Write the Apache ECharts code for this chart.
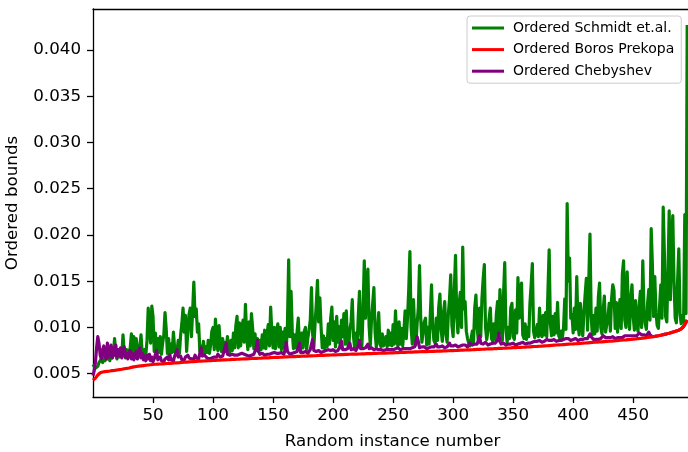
<!DOCTYPE html>
<html>
<head>
<meta charset="utf-8">
<script src="https://cdn.jsdelivr.net/npm/echarts@6/dist/echarts.min.js"></script>
<style>
  html, body { margin: 0; padding: 0; background: #fff; }
  #chart { width: 688px; height: 452px; }
</style>
</head>
<body>
<div id="chart"></div>
<script>
// Tick positions for both axes
const xTicks = [50, 100, 150, 200, 250, 300, 350, 400, 450];
const yTicks = [0.005, 0.010, 0.015, 0.020, 0.025, 0.030, 0.035, 0.040];

// Ordered Schmidt et.al. bound, one value per random instance
const schmidt = [
  .0060,.0061,.0056,.0054,.0058,.0062,.0060,.0066,.0062,.0068,
  .0064,.0072,.0066,.0070,.0064,.0076,.0067,.0073,.0088,.0070,
  .0066,.0072,.0068,.0075,.0070,.0092,.0072,.0067,.0076,.0069,
  .0073,.0078,.0093,.0074,.0090,.0070,.0088,.0075,.0069,.0079,
  .0092,.0072,.0068,.0076,.0070,.0086,.0121,.0100,.0083,.0123,
  .0112,.0074,.0094,.0072,.0088,.0073,.0090,.0071,.0083,.0092,
  .0116,.0098,.0072,.0088,.0070,.0082,.0073,.0095,.0078,.0070,
  .0074,.0086,.0072,.0092,.0104,.0121,.0095,.0113,.0074,.0096,
  .0114,.0121,.0090,.0118,.0149,.0112,.0120,.0095,.0104,.0074,
  .0080,.0071,.0085,.0072,.0079,.0073,.0086,.0072,.0081,.0096,
  .0100,.0076,.0109,.0088,.0075,.0102,.0082,.0074,.0088,.0073,
  .0084,.0074,.0090,.0076,.0073,.0086,.0075,.0094,.0078,.0102,
  .0112,.0078,.0105,.0080,.0098,.0108,.0084,.0125,.0090,.0076,
  .0106,.0080,.0115,.0099,.0077,.0093,.0075,.0088,.0074,.0086,
  .0076,.0092,.0078,.0097,.0077,.0093,.0103,.0080,.0122,.0094,
  .0078,.0100,.0077,.0097,.0104,.0079,.0100,.0076,.0095,.0078,
  .0099,.0077,.0104,.0173,.0090,.0139,.0096,.0077,.0092,.0078,
  .0095,.0110,.0080,.0076,.0094,.0078,.0096,.0100,.0076,.0089,
  .0097,.0108,.0143,.0092,.0079,.0104,.0125,.0151,.0106,.0132,
  .0100,.0078,.0091,.0077,.0088,.0079,.0104,.0082,.0110,.0122,
  .0086,.0106,.0079,.0112,.0084,.0101,.0078,.0108,.0090,.0115,
  .0082,.0118,.0084,.0078,.0098,.0106,.0130,.0090,.0078,.0094,
  .0080,.0112,.0139,.0094,.0080,.0120,.0172,.0110,.0142,.0163,
  .0102,.0080,.0108,.0126,.0143,.0095,.0079,.0096,.0116,.0082,
  .0079,.0093,.0080,.0078,.0090,.0079,.0097,.0081,.0094,.0080,
  .0103,.0082,.0118,.0088,.0080,.0106,.0082,.0099,.0080,.0096,
  .0118,.0088,.0110,.0140,.0182,.0100,.0082,.0130,.0095,.0081,
  .0104,.0121,.0167,.0110,.0084,.0082,.0106,.0110,.0081,.0100,
  .0082,.0114,.0146,.0102,.0086,.0083,.0110,.0086,.0122,.0136,
  .0098,.0085,.0116,.0128,.0092,.0084,.0114,.0131,.0157,.0102,
  .0090,.0141,.0178,.0112,.0094,.0126,.0138,.0100,.0187,.0120,
  .0128,.0096,.0088,.0083,.0080,.0079,.0096,.0084,.0121,.0135,
  .0100,.0086,.0121,.0090,.0131,.0152,.0168,.0100,.0087,.0096,
  .0110,.0121,.0088,.0085,.0104,.0087,.0114,.0128,.0092,.0141,
  .0112,.0086,.0136,.0170,.0098,.0084,.0100,.0088,.0121,.0126,
  .0090,.0087,.0119,.0094,.0154,.0110,.0138,.0148,.0092,.0088,
  .0104,.0087,.0100,.0090,.0126,.0146,.0169,.0096,.0089,.0088,
  .0103,.0090,.0121,.0094,.0090,.0113,.0092,.0116,.0090,.0140,
  .0184,.0104,.0091,.0112,.0092,.0115,.0094,.0127,.0091,.0088,
  .0096,.0089,.0100,.0131,.0098,.0234,.0150,.0175,.0110,.0114,
  .0094,.0121,.0098,.0155,.0104,.0092,.0126,.0108,.0091,.0116,
  .0136,.0153,.0097,.0150,.0201,.0112,.0092,.0113,.0093,.0121,
  .0096,.0133,.0148,.0100,.0093,.0119,.0134,.0095,.0094,.0111,
  .0126,.0096,.0131,.0146,.0140,.0099,.0127,.0095,.0119,.0130,
  .0099,.0158,.0172,.0108,.0100,.0160,.0122,.0098,.0131,.0146,
  .0112,.0097,.0129,.0104,.0096,.0123,.0139,.0100,.0172,.0118,
  .0104,.0098,.0126,.0141,.0108,.0207,.0168,.0112,.0155,.0116,
  .0102,.0099,.0123,.0146,.0110,.0230,.0180,.0112,.0106,.0160,
  .0226,.0130,.0190,.0221,.0150,.0110,.0105,.0150,.0185,.0115,
  .0104,.0113,.0106,.0222,.0115,.0427
];

// Ordered Boros Prekopa bound
const borosPrekopa = [
  .00430,.00438,.00452,.00468,.00486,.00502,.00510,.00515,.00518,.00521,
  .00522,.00524,.00526,.00527,.00529,.00531,.00533,.00534,.00536,.00538,
  .00540,.00542,.00544,.00546,.00548,.00551,.00553,.00555,.00557,.00560,
  .00562,.00565,.00568,.00571,.00573,.00576,.00578,.00580,.00582,.00584,
  .00585,.00587,.00588,.00590,.00591,.00593,.00594,.00596,.00597,.00599,
  .00600,.00601,.00602,.00603,.00604,.00604,.00605,.00606,.00607,.00608,
  .00608,.00609,.00610,.00611,.00612,.00613,.00614,.00615,.00616,.00617,
  .00617,.00618,.00619,.00620,.00622,.00623,.00624,.00625,.00626,.00627,
  .00628,.00629,.00629,.00630,.00631,.00632,.00633,.00634,.00635,.00635,
  .00636,.00637,.00637,.00638,.00639,.00640,.00640,.00641,.00642,.00642,
  .00643,.00644,.00644,.00645,.00646,.00647,.00647,.00648,.00649,.00649,
  .00650,.00650,.00651,.00652,.00652,.00653,.00654,.00654,.00655,.00655,
  .00656,.00657,.00657,.00658,.00659,.00659,.00660,.00661,.00661,.00662,
  .00662,.00663,.00664,.00664,.00665,.00665,.00666,.00666,.00667,.00668,
  .00668,.00669,.00670,.00670,.00671,.00672,.00672,.00673,.00674,.00674,
  .00675,.00675,.00676,.00677,.00677,.00678,.00678,.00679,.00680,.00680,
  .00681,.00681,.00682,.00683,.00683,.00684,.00684,.00685,.00685,.00686,
  .00687,.00687,.00688,.00688,.00689,.00689,.00690,.00690,.00691,.00691,
  .00692,.00693,.00693,.00694,.00694,.00695,.00695,.00696,.00697,.00697,
  .00698,.00698,.00699,.00699,.00700,.00700,.00701,.00701,.00702,.00702,
  .00703,.00703,.00704,.00704,.00705,.00705,.00706,.00706,.00707,.00707,
  .00708,.00708,.00709,.00709,.00710,.00710,.00711,.00711,.00712,.00712,
  .00712,.00713,.00713,.00714,.00714,.00715,.00715,.00716,.00716,.00717,
  .00717,.00717,.00718,.00718,.00719,.00719,.00720,.00720,.00721,.00721,
  .00721,.00722,.00722,.00723,.00723,.00724,.00724,.00725,.00725,.00726,
  .00726,.00727,.00727,.00728,.00728,.00729,.00729,.00730,.00730,.00731,
  .00731,.00731,.00732,.00732,.00733,.00733,.00734,.00734,.00735,.00735,
  .00736,.00736,.00737,.00737,.00738,.00738,.00738,.00739,.00739,.00740,
  .00740,.00741,.00741,.00742,.00742,.00743,.00743,.00744,.00744,.00745,
  .00745,.00746,.00746,.00747,.00747,.00748,.00748,.00749,.00749,.00750,
  .00750,.00751,.00751,.00752,.00752,.00753,.00754,.00754,.00755,.00755,
  .00756,.00756,.00757,.00758,.00758,.00759,.00759,.00760,.00761,.00761,
  .00762,.00762,.00763,.00764,.00764,.00765,.00765,.00766,.00767,.00767,
  .00768,.00768,.00769,.00770,.00770,.00771,.00772,.00772,.00773,.00773,
  .00774,.00775,.00775,.00776,.00777,.00777,.00778,.00779,.00779,.00780,
  .00781,.00781,.00782,.00783,.00783,.00784,.00785,.00785,.00786,.00787,
  .00787,.00788,.00789,.00790,.00790,.00791,.00792,.00793,.00794,.00795,
  .00795,.00796,.00797,.00798,.00799,.00800,.00801,.00802,.00802,.00803,
  .00804,.00805,.00806,.00807,.00808,.00809,.00810,.00811,.00812,.00812,
  .00813,.00814,.00815,.00816,.00817,.00818,.00819,.00820,.00821,.00821,
  .00822,.00823,.00824,.00825,.00826,.00827,.00828,.00829,.00830,.00831,
  .00832,.00833,.00834,.00835,.00836,.00837,.00838,.00839,.00840,.00840,
  .00841,.00842,.00843,.00844,.00845,.00846,.00847,.00848,.00849,.00850,
  .00851,.00852,.00853,.00854,.00855,.00856,.00857,.00858,.00860,.00861,
  .00862,.00863,.00864,.00865,.00866,.00868,.00869,.00870,.00871,.00872,
  .00874,.00875,.00876,.00877,.00879,.00880,.00881,.00883,.00884,.00886,
  .00888,.00889,.00891,.00893,.00895,.00897,.00899,.00901,.00903,.00905,
  .00908,.00910,.00913,.00916,.00919,.00922,.00925,.00928,.00931,.00935,
  .00938,.00942,.00946,.00950,.00954,.00958,.00962,.00966,.00970,.00975,
  .00985,.00995,.01010,.01030,.01055,.01080
];

// Ordered Chebyshev bound
const chebyshev = [
  .0048,.0053,.0062,.0078,.0090,.0083,.0070,.0066,.0076,.0080,
  .0070,.0066,.0083,.0068,.0074,.0081,.0067,.0078,.0070,.0081,
  .0068,.0076,.0070,.0078,.0067,.0074,.0079,.0068,.0072,.0066,
  .0071,.0075,.0066,.0072,.0065,.0069,.0074,.0066,.0074,.0078,
  .0067,.0072,.0065,.0069,.0064,.0070,.0066,.0071,.0064,.0068,
  .0063,.0066,.0071,.0075,.0065,.0063,.0068,.0064,.0066,.0063,
  .0066,.0064,.0068,.0065,.0070,.0065,.0067,.0064,.0069,.0072,
  .0076,.0068,.0066,.0069,.0065,.0067,.0065,.0068,.0066,.0070,
  .0067,.0069,.0066,.0068,.0066,.0070,.0067,.0069,.0066,.0072,
  .0078,.0069,.0067,.0070,.0068,.0067,.0069,.0066,.0068,.0067,
  .0069,.0068,.0070,.0068,.0071,.0069,.0068,.0070,.0069,.0074,
  .0079,.0083,.0071,.0069,.0070,.0068,.0071,.0069,.0070,.0072,
  .0070,.0069,.0071,.0070,.0072,.0070,.0071,.0073,.0070,.0071,
  .0069,.0071,.0070,.0072,.0071,.0070,.0078,.0086,.0074,.0071,
  .0070,.0072,.0071,.0070,.0072,.0071,.0073,.0071,.0070,.0072,
  .0071,.0073,.0071,.0072,.0070,.0072,.0071,.0073,.0072,.0071,
  .0076,.0084,.0074,.0072,.0071,.0073,.0072,.0071,.0073,.0072,
  .0074,.0079,.0083,.0073,.0072,.0073,.0072,.0074,.0073,.0072,
  .0074,.0076,.0082,.0087,.0075,.0073,.0074,.0073,.0075,.0074,
  .0073,.0075,.0074,.0073,.0075,.0074,.0076,.0074,.0075,.0074,
  .0076,.0075,.0074,.0076,.0075,.0077,.0080,.0085,.0076,.0075,
  .0076,.0075,.0077,.0079,.0083,.0076,.0075,.0077,.0076,.0075,
  .0077,.0080,.0086,.0077,.0076,.0077,.0076,.0078,.0077,.0082,
  .0077,.0076,.0078,.0077,.0076,.0078,.0077,.0078,.0076,.0078,
  .0076,.0077,.0075,.0077,.0076,.0078,.0076,.0077,.0076,.0077,
  .0076,.0078,.0077,.0076,.0078,.0077,.0076,.0078,.0077,.0078,
  .0077,.0078,.0077,.0078,.0077,.0079,.0078,.0077,.0079,.0084,
  .0090,.0085,.0078,.0077,.0079,.0078,.0079,.0078,.0077,.0079,
  .0078,.0077,.0079,.0078,.0079,.0078,.0082,.0079,.0078,.0079,
  .0078,.0080,.0079,.0078,.0080,.0079,.0081,.0083,.0080,.0079,
  .0080,.0079,.0081,.0080,.0079,.0081,.0080,.0079,.0081,.0080,
  .0081,.0080,.0079,.0081,.0083,.0085,.0081,.0080,.0082,.0081,
  .0082,.0086,.0091,.0083,.0081,.0082,.0081,.0084,.0082,.0081,
  .0083,.0082,.0081,.0083,.0082,.0083,.0082,.0086,.0094,.0085,
  .0082,.0081,.0083,.0082,.0081,.0083,.0082,.0083,.0082,.0081,
  .0083,.0082,.0081,.0083,.0082,.0084,.0083,.0082,.0084,.0083,
  .0082,.0084,.0083,.0084,.0083,.0085,.0084,.0083,.0085,.0084,
  .0085,.0084,.0086,.0085,.0084,.0086,.0085,.0086,.0087,.0089,
  .0086,.0085,.0086,.0085,.0087,.0086,.0085,.0087,.0086,.0087,
  .0086,.0088,.0087,.0086,.0088,.0087,.0088,.0087,.0086,.0088,
  .0087,.0086,.0088,.0087,.0086,.0088,.0087,.0088,.0087,.0086,
  .0088,.0087,.0088,.0090,.0093,.0090,.0088,.0087,.0088,.0087,
  .0088,.0087,.0089,.0088,.0089,.0091,.0093,.0089,.0088,.0089,
  .0088,.0089,.0088,.0090,.0089,.0088,.0090,.0089,.0090,.0089,
  .0090,.0089,.0090,.0091,.0090,.0091,.0090,.0091,.0090,.0091,
  .0090,.0091,.0092,.0091,.0092,.0094,.0093,.0092,.0093,.0092,
  .0092,.0091,.0093,.0095,.0092,.0091,.00899,.00901,.00903,.00905,
  .00908,.00910,.00913,.00916,.00919,.00922,.00925,.00928,.00931,.00935,
  .00938,.00942,.00946,.00950,.00954,.00958,.00962,.00966,.00970,.00975,
  .00985,.00995,.01010,.01030,.01055,.01080
];

const FONT = 'DejaVu Sans';
const toPoints = arr => arr.map((v, i) => [i, v]);

const chart = echarts.init(document.getElementById('chart'), null, { renderer: 'canvas' });

const axisText = { color: '#000', fontFamily: FONT, fontSize: 16.7 };
const spine = { show: true, lineStyle: { color: '#000', width: 1.3 } };
const ticks = values => ({
  show: true, inside: false, length: 6,
  lineStyle: { color: '#000', width: 1.3 },
  customValues: values
});
const lineSeries = (name, values, color, z) => ({
  name, type: 'line', z,
  data: toPoints(values), showSymbol: false, symbol: 'none',
  color, lineStyle: { color, width: 3.2, join: 'round', cap: 'butt' }
});

chart.setOption({
  animation: false,
  backgroundColor: '#fff',
  // the plot runs slightly past the right edge of the canvas
  grid: { left: 93, top: 9, width: 599, height: 388, containLabel: false, outerBoundsMode: 'none' },
  legend: {
    data: ['Ordered Schmidt et.al.', 'Ordered Boros Prekopa', 'Ordered Chebyshev'],
    orient: 'vertical',
    left: 467, top: 16,
    padding: [4, 7, 4, 5],
    itemGap: 5.6,
    itemWidth: 32, itemHeight: 3,
    icon: 'rect',
    backgroundColor: 'rgba(255,255,255,0.8)',
    borderColor: '#cccccc', borderWidth: 1, borderRadius: 3,
    textStyle: { color: '#000', fontFamily: FONT, fontSize: 14, lineHeight: 16, padding: [0, 0, 0, 4] }
  },
  xAxis: [
    {
      type: 'value', min: 0, max: 499,
      name: 'Random instance number', nameLocation: 'middle', nameGap: 36,
      nameTextStyle: axisText,
      axisLine: spine,
      axisTick: ticks(xTicks),
      axisLabel: Object.assign({ customValues: xTicks, margin: 10 }, axisText),
      splitLine: { show: false }
    },
    {
      type: 'value', min: 0, max: 499, position: 'top',
      axisLine: spine, axisTick: { show: false }, axisLabel: { show: false },
      splitLine: { show: false }
    }
  ],
  yAxis: {
    type: 'value', min: 0.00248, max: 0.04443,
    name: 'Ordered bounds', nameLocation: 'middle', nameGap: 72, nameRotate: 90,
    nameTextStyle: axisText,
    axisLine: spine,
    axisTick: ticks(yTicks),
    axisLabel: Object.assign({ customValues: yTicks, margin: 12, formatter: v => v.toFixed(3) }, axisText),
    splitLine: { show: false }
  },
  series: [
    lineSeries('Ordered Schmidt et.al.', schmidt, '#008000', 2),
    lineSeries('Ordered Boros Prekopa', borosPrekopa, '#ff0000', 4),
    lineSeries('Ordered Chebyshev', chebyshev, '#800080', 3)
  ]
});
</script>
</body>
</html>
